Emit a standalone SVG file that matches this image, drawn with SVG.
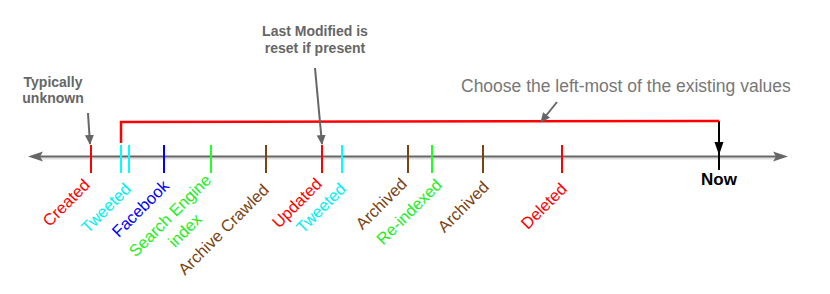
<svg xmlns="http://www.w3.org/2000/svg" width="830" height="294" viewBox="0 0 830 294">
<style>
text{font-family:"Liberation Sans",Arial,sans-serif}
.lbl{font-size:16.5px;text-anchor:end}
.note{font-size:14px;font-weight:bold;fill:#666;text-anchor:middle}
.tick{stroke-width:2;fill:none}
.red{stroke:#ff0000}.redt{fill:#ff0000}
.cyan{stroke:#00ffff}.cyant{fill:#00f0f0}
.blue{stroke:#0000ff}.bluet{fill:#0000ff}
.green{stroke:#22ff22}.greent{fill:#22ee22}
.brown{stroke:#7a4412}.brownt{fill:#7a4412}
.garrow{stroke:#666;stroke-width:2;fill:none}
</style>
<defs>
<marker id="ga" markerWidth="10" markerHeight="10" refX="9" refY="5" orient="auto" markerUnits="userSpaceOnUse"><path d="M0,0.5 L10,5 L0,9.5 Z" fill="#666"/></marker>
</defs>
<rect width="830" height="294" fill="#fff"/>
<g id="timeline">
<line x1="40" y1="158.5" x2="776" y2="158.5" stroke="#ddd" stroke-width="2"/>
<line x1="38" y1="156.5" x2="778" y2="156.5" stroke="#666" stroke-width="2"/>
<path d="M28,156.5 L43,151.5 L40,156.5 L43,161.5 Z" fill="#666"/>
<path d="M788,156.5 L773,151.5 L776,156.5 L773,161.5 Z" fill="#666"/>
</g>
<g id="created"><line class="tick red" x1="91" y1="145" x2="91" y2="173"/><text class="lbl redt" transform="translate(91,186) rotate(-45)">Created</text></g>
<g id="tweeted1"><line class="tick cyan" x1="121" y1="145" x2="121" y2="173"/><line class="tick cyan" x1="129" y1="145" x2="129" y2="173"/><text class="lbl cyant" transform="translate(132,190) rotate(-45)">Tweeted</text></g>
<g id="facebook"><line class="tick blue" x1="164" y1="145" x2="164" y2="173"/><text class="lbl bluet" transform="translate(170,187) rotate(-45)">Facebook</text></g>
<g id="search"><line class="tick green" x1="211" y1="145" x2="211" y2="173"/><text class="greent" font-size="16.5" text-anchor="middle" transform="translate(174,219.5) rotate(-45)"><tspan x="0" y="0">Search Engine</tspan><tspan x="0" dy="21">index</tspan></text></g>
<g id="archivecrawled"><line class="tick brown" x1="266" y1="145" x2="266" y2="173"/><text class="lbl brownt" transform="translate(270,191) rotate(-45)">Archive Crawled</text></g>
<g id="updated"><line class="tick red" x1="322" y1="145" x2="322" y2="173"/><text class="lbl redt" transform="translate(323,185) rotate(-45)">Updated</text></g>
<g id="tweeted2"><line class="tick cyan" x1="342" y1="145" x2="342" y2="173"/><text class="lbl cyant" transform="translate(347,190) rotate(-45)">Tweeted</text></g>
<g id="archived1"><line class="tick brown" x1="408" y1="145" x2="408" y2="173"/><text class="lbl brownt" transform="translate(408,185) rotate(-45)">Archived</text></g>
<g id="reindexed"><line class="tick green" x1="432" y1="145" x2="432" y2="173"/><text class="lbl greent" transform="translate(443,186) rotate(-45)">Re-indexed</text></g>
<g id="archived2"><line class="tick brown" x1="483" y1="145" x2="483" y2="173"/><text class="lbl brownt" transform="translate(490,188) rotate(-45)">Archived</text></g>
<g id="deleted"><line class="tick red" x1="562" y1="145" x2="562" y2="173"/><text class="lbl redt" transform="translate(568,190) rotate(-45)">Deleted</text></g>
<g id="now"><line x1="719" y1="121" x2="719" y2="170" stroke="#000" stroke-width="2"/><path d="M719,155 L714.5,142 L723.5,142 Z" fill="#000"/><text x="719" y="185" font-size="17" font-weight="bold" text-anchor="middle" fill="#000">Now</text></g>
<g id="note-unknown"><text class="note" x="53" y="87">Typically</text><text class="note" x="53" y="103">unknown</text></g>
<g id="note-lastmod"><text class="note" x="315" y="36">Last Modified is</text><text class="note" x="315" y="52.5">reset if present</text></g>
<g id="note-choose"><text x="461" y="92" font-size="17.5" fill="#777">Choose the left-most of the existing values</text></g>
<g id="connectors">
<polyline points="121,143 121,122 719,121" fill="none" stroke="#ff0000" stroke-width="2.5"/>
<line class="garrow" x1="88" y1="113" x2="90" y2="144" marker-end="url(#ga)"/>
<line class="garrow" x1="315" y1="68" x2="322" y2="144" marker-end="url(#ga)"/>
<line class="garrow" x1="557" y1="102" x2="541" y2="122" marker-end="url(#ga)"/>
</g>
</svg>
